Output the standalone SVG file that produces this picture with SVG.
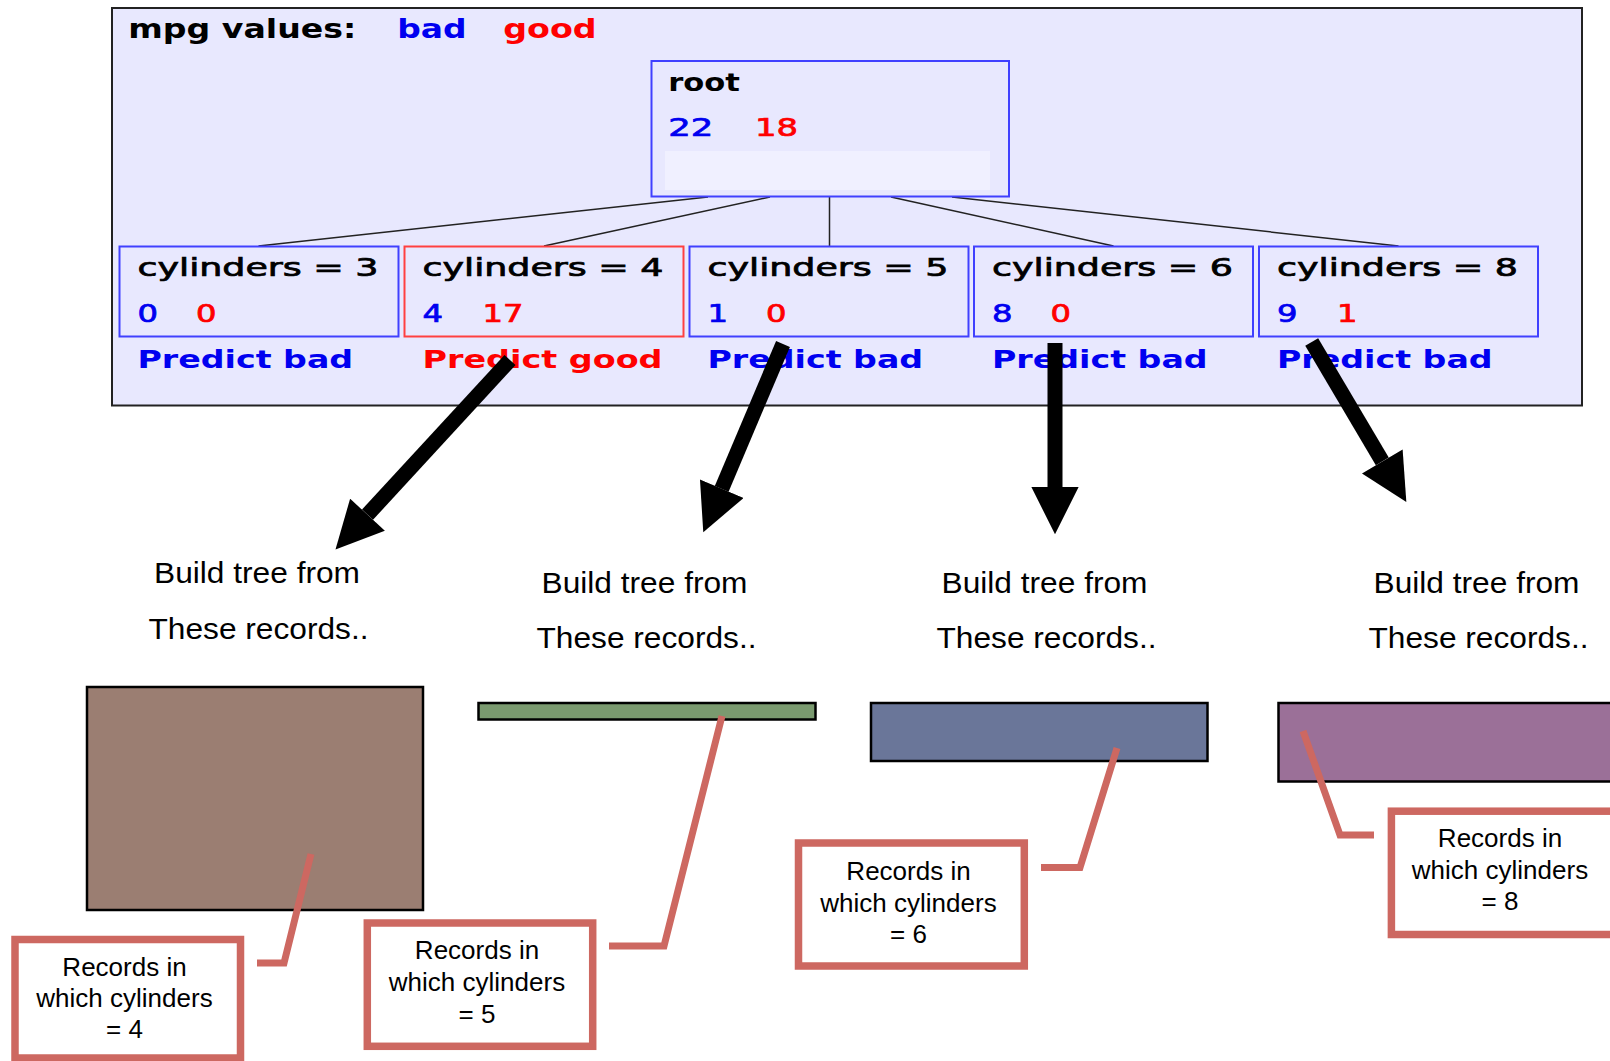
<svg xmlns="http://www.w3.org/2000/svg" width="1610" height="1061" viewBox="0 0 1610 1061">
  <style>
    .panel { fill: #e8e8fe; stroke: #222; stroke-width: 2; }
    .tt { font-family: "DejaVu Sans", Verdana, sans-serif; font-size: 24px; stroke-width: 0.7px; }
    .legend { font-size: 26px; font-weight: bold; stroke-width: 0; }
    .bold { font-weight: bold; stroke-width: 0; }
    .k { fill: #000; stroke: #000; }
    .b { fill: #0000f0; stroke: #0000f0; }
    .r { fill: #ff0000; stroke: #ff0000; }
    .nodeB { fill: none; stroke: #4040ff; stroke-width: 2; }
    .nodeR { fill: none; stroke: #ff4040; stroke-width: 2; }
    .edge { stroke: #222; stroke-width: 1.5; fill: none; }
    .arrow { stroke: #000; stroke-width: 15; fill: none; marker-end: url(#head); }
    .cap { font-family: "Liberation Sans", Arial, sans-serif; font-size: 30px; fill: #000; text-anchor: middle; }
    .rec { stroke: #000; stroke-width: 2.5; }
    .callout { fill: #fff; stroke: #cd6861; stroke-width: 7.5; }
    .lead { fill: none; stroke: #cd6861; stroke-width: 7; stroke-linejoin: miter; }
    .ct { font-family: "Liberation Sans", Arial, sans-serif; font-size: 26px; fill: #000; text-anchor: middle; }
  </style>
  <defs>
    <marker id="head" viewBox="0 0 10 10" refX="0" refY="5" markerWidth="3.2" markerHeight="3.15" orient="auto" markerUnits="strokeWidth">
      <path d="M0,0 L10,5 L0,10 z" fill="#000"/>
    </marker>
  </defs>

  <rect width="1610" height="1061" fill="#fff"/>

  <!-- decision tree panel -->
  <g id="tree-panel">
    <rect class="panel" x="112" y="8" width="1470" height="397.5"/>
    <g id="legend" class="tt legend">
      <text class="k" x="128.3" y="38" textLength="228" lengthAdjust="spacingAndGlyphs">mpg values:</text>
      <text class="b" x="397.3" y="38" textLength="69.4" lengthAdjust="spacingAndGlyphs">bad</text>
      <text class="r" x="503.3" y="38" textLength="93.4" lengthAdjust="spacingAndGlyphs">good</text>
    </g>
  </g>

  <!-- tree edges -->
  <g id="edges">
    <line class="edge" x1="708" y1="197" x2="258.5" y2="246"/>
    <line class="edge" x1="770" y1="197" x2="544" y2="246"/>
    <line class="edge" x1="829.5" y1="197" x2="829.5" y2="246"/>
    <line class="edge" x1="891" y1="197" x2="1113.5" y2="246"/>
    <line class="edge" x1="952" y1="197" x2="1398.5" y2="246"/>
  </g>

  <g id="node-root" class="tt">
    <rect class="nodeB" x="651.5" y="61" width="357.5" height="135.5"/>
    <rect x="665" y="151" width="325" height="39" fill="#f0f0ff" stroke="none"/>
    <text class="k bold" x="668.3" y="91" textLength="71.7" lengthAdjust="spacingAndGlyphs">root</text>
    <text class="b" x="668.3" y="135.5" textLength="45" lengthAdjust="spacingAndGlyphs">22</text>
    <text class="r" x="755" y="135.5" textLength="43" lengthAdjust="spacingAndGlyphs">18</text>
  </g>

  <g id="node-cyl3" class="tt">
    <rect class="nodeB" x="119.5" y="246.5" width="279" height="90"/>
    <text class="k" x="137.5" y="276" textLength="241" lengthAdjust="spacingAndGlyphs">cylinders = 3</text>
    <text class="b" x="137.5" y="322" textLength="20.5" lengthAdjust="spacingAndGlyphs">0</text>
    <text class="r" x="196" y="322" textLength="20.5" lengthAdjust="spacingAndGlyphs">0</text>
    <text class="b bold" x="137.5" y="368" textLength="215.6" lengthAdjust="spacingAndGlyphs">Predict bad</text>
  </g>

  <g id="node-cyl4" class="tt">
    <rect class="nodeR" x="404.5" y="246.5" width="279" height="90"/>
    <text class="k" x="422.5" y="276" textLength="241" lengthAdjust="spacingAndGlyphs">cylinders = 4</text>
    <text class="b" x="422.5" y="322" textLength="20.5" lengthAdjust="spacingAndGlyphs">4</text>
    <text class="r" x="482.5" y="322" textLength="41" lengthAdjust="spacingAndGlyphs">17</text>
    <text class="r bold" x="422.5" y="368" textLength="240" lengthAdjust="spacingAndGlyphs">Predict good</text>
  </g>

  <g id="node-cyl5" class="tt">
    <rect class="nodeB" x="689.5" y="246.5" width="279" height="90"/>
    <text class="k" x="707.5" y="276" textLength="241" lengthAdjust="spacingAndGlyphs">cylinders = 5</text>
    <text class="b" x="707.5" y="322" textLength="20.5" lengthAdjust="spacingAndGlyphs">1</text>
    <text class="r" x="766" y="322" textLength="20.5" lengthAdjust="spacingAndGlyphs">0</text>
    <text class="b bold" x="707.5" y="368" textLength="215.6" lengthAdjust="spacingAndGlyphs">Predict bad</text>
  </g>

  <g id="node-cyl6" class="tt">
    <rect class="nodeB" x="974" y="246.5" width="279" height="90"/>
    <text class="k" x="992" y="276" textLength="241" lengthAdjust="spacingAndGlyphs">cylinders = 6</text>
    <text class="b" x="992" y="322" textLength="20.5" lengthAdjust="spacingAndGlyphs">8</text>
    <text class="r" x="1050.5" y="322" textLength="20.5" lengthAdjust="spacingAndGlyphs">0</text>
    <text class="b bold" x="992" y="368" textLength="215.6" lengthAdjust="spacingAndGlyphs">Predict bad</text>
  </g>

  <g id="node-cyl8" class="tt">
    <rect class="nodeB" x="1259" y="246.5" width="279" height="90"/>
    <text class="k" x="1277" y="276" textLength="241" lengthAdjust="spacingAndGlyphs">cylinders = 8</text>
    <text class="b" x="1277" y="322" textLength="20.5" lengthAdjust="spacingAndGlyphs">9</text>
    <text class="r" x="1337" y="322" textLength="20.5" lengthAdjust="spacingAndGlyphs">1</text>
    <text class="b bold" x="1277" y="368" textLength="215.6" lengthAdjust="spacingAndGlyphs">Predict bad</text>
  </g>

  <!-- thick arrows from the leaves down to their record subsets -->
  <g id="arrows">
    <line class="arrow" x1="510" y1="360" x2="367.5" y2="514.7"/>
    <line class="arrow" x1="783" y1="344" x2="721.7" y2="488.8"/>
    <line class="arrow" x1="1055" y1="343" x2="1055" y2="487"/>
    <line class="arrow" x1="1311.7" y1="342" x2="1382.3" y2="461.4"/>
  </g>

  <g id="caption-4">
    <text class="cap" x="257" y="583" textLength="206" lengthAdjust="spacingAndGlyphs">Build tree from</text>
    <text class="cap" x="258.5" y="639" textLength="220" lengthAdjust="spacingAndGlyphs">These records..</text>
  </g>
  <g id="caption-5">
    <text class="cap" x="644.5" y="593" textLength="206" lengthAdjust="spacingAndGlyphs">Build tree from</text>
    <text class="cap" x="646.5" y="648" textLength="220" lengthAdjust="spacingAndGlyphs">These records..</text>
  </g>
  <g id="caption-6">
    <text class="cap" x="1044.5" y="593" textLength="206" lengthAdjust="spacingAndGlyphs">Build tree from</text>
    <text class="cap" x="1046.5" y="648" textLength="220" lengthAdjust="spacingAndGlyphs">These records..</text>
  </g>
  <g id="caption-8">
    <text class="cap" x="1476.5" y="593" textLength="206" lengthAdjust="spacingAndGlyphs">Build tree from</text>
    <text class="cap" x="1478.5" y="648" textLength="220" lengthAdjust="spacingAndGlyphs">These records..</text>
  </g>

  <!-- record subsets -->
  <g id="records-4"><rect class="rec" x="87" y="687" width="336" height="223" fill="#9b7e72"/></g>
  <g id="records-5"><rect class="rec" x="478.5" y="703" width="337" height="16.5" fill="#7a9a6f"/></g>
  <g id="records-6"><rect class="rec" x="871" y="703" width="336.5" height="58" fill="#6a7699"/></g>
  <g id="records-8"><rect class="rec" x="1278.5" y="703" width="345" height="78.5" fill="#9b7098"/></g>

  <!-- callout leaders -->
  <g id="leaders">
    <polyline class="lead" points="257,963 284,963 311,854"/>
    <polyline class="lead" points="609,946 664,946 722,716"/>
    <polyline class="lead" points="1041,867.5 1080,867.5 1117,748"/>
    <polyline class="lead" points="1374,835 1340,835 1303,731"/>
  </g>

  <g id="callout-4">
    <rect class="callout" x="15" y="939.5" width="225.5" height="118.5"/>
    <text class="ct" x="124.5" y="976">Records in</text>
    <text class="ct" x="124.5" y="1007.3">which cylinders</text>
    <text class="ct" x="124.5" y="1038.3">= 4</text>
  </g>
  <g id="callout-5">
    <rect class="callout" x="367.3" y="923" width="225.4" height="123.3"/>
    <text class="ct" x="477" y="959.3">Records in</text>
    <text class="ct" x="477" y="990.7">which cylinders</text>
    <text class="ct" x="477" y="1022.7">= 5</text>
  </g>
  <g id="callout-6">
    <rect class="callout" x="798.5" y="843" width="225.8" height="123"/>
    <text class="ct" x="908.5" y="880">Records in</text>
    <text class="ct" x="908.5" y="911.7">which cylinders</text>
    <text class="ct" x="908.5" y="943.3">= 6</text>
  </g>
  <g id="callout-8">
    <rect class="callout" x="1391.4" y="811.2" width="225.8" height="123.3"/>
    <text class="ct" x="1500" y="846.7">Records in</text>
    <text class="ct" x="1500" y="879.3">which cylinders</text>
    <text class="ct" x="1500" y="910">= 8</text>
  </g>
</svg>
